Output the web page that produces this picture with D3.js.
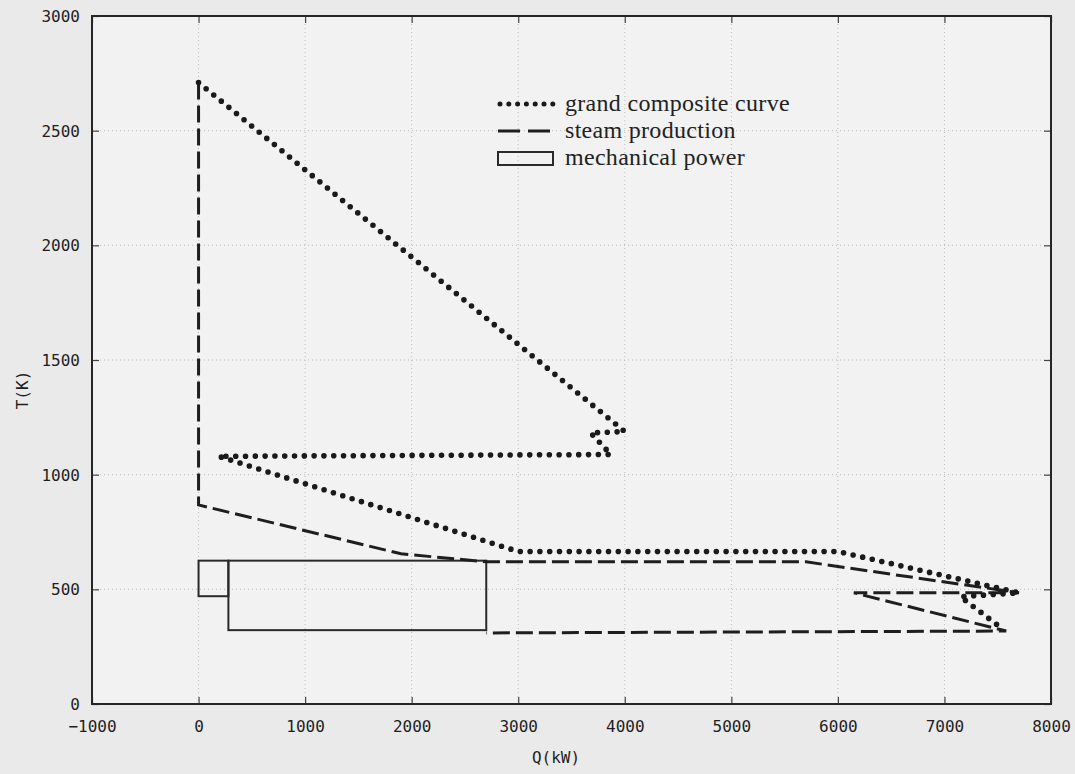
<!DOCTYPE html>
<html><head><meta charset="utf-8">
<script src="https://cdn.jsdelivr.net/npm/d3@7"></script>
<style>
html,body{margin:0;padding:0;background:#ebebeb;}
svg{display:block;}
</style></head>
<body>
<svg id="chart" width="1075" height="774"></svg>
<script>
// ---- data ----
const gccQ = [0, 4000, 3680, 3870, 190, 3000, 6000, 7700, 7150, 7560];
const gccT = [2710, 1188, 1182, 1088, 1080, 665, 665, 485, 468, 322];
const steamQ = [0, 0, 1900, 2700, 5700, 7700, 6150, 7580, 2700];
const steamT = [2710, 868, 655, 620, 620, 485, 485, 318, 310];
const mechQ0 = [0, 280];
const mechQ1 = [280, 2700];
const mechTlow = [470, 322];
const mechThigh = [625, 625];
const xTicks = [-1000, 0, 1000, 2000, 3000, 4000, 5000, 6000, 7000, 8000];
const yTicks = [0, 500, 1000, 1500, 2000, 2500, 3000];
const legendLabels = ["grand composite curve", "steam production", "mechanical power"];

const svg = d3.select("#chart");
const L = 92, R = 1051, T = 16, B = 704;
const x = d3.scaleLinear().domain([-1000, 8000]).range([L, R]);
const y = d3.scaleLinear().domain([0, 3000]).range([B, T]);

svg.append("rect").attr("x", 0).attr("y", 0).attr("width", 1075).attr("height", 774).attr("fill", "#eaeaea");
svg.append("rect").attr("x", L).attr("y", T).attr("width", R - L).attr("height", B - T).attr("fill", "#f2f2f2");

// grid
const grid = svg.append("g").attr("stroke", "#bdbdbd").attr("stroke-width", 1).attr("stroke-dasharray", "1 3");
xTicks.slice(1, -1).forEach(v => grid.append("line").attr("x1", x(v)).attr("x2", x(v)).attr("y1", T).attr("y2", B));
yTicks.slice(1, -1).forEach(v => grid.append("line").attr("y1", y(v)).attr("y2", y(v)).attr("x1", L).attr("x2", R));

// axes with mirrored inward ticks
const fmt = d3.format("d");
const axB = svg.append("g").attr("transform", `translate(0,${B})`)
  .call(d3.axisBottom(x).tickValues(xTicks).tickSize(-7).tickPadding(17).tickFormat(fmt));
const axT = svg.append("g").attr("transform", `translate(0,${T})`)
  .call(d3.axisTop(x).tickValues(xTicks).tickSize(-7).tickFormat(""));
const axL = svg.append("g").attr("transform", `translate(${L},0)`)
  .call(d3.axisLeft(y).tickValues(yTicks).tickSize(-7).tickPadding(12).tickFormat(fmt));
const axR = svg.append("g").attr("transform", `translate(${R},0)`)
  .call(d3.axisRight(y).tickValues(yTicks).tickSize(-7).tickFormat(""));
[axB, axT, axL, axR].forEach(a => {
  a.select(".domain").remove();
  a.selectAll(".tick line").attr("stroke", "#444").attr("stroke-width", 1.2);
  a.selectAll("text").attr("font-family", "DejaVu Sans Mono").attr("font-size", 16).attr("fill", "#1e1e1e");
});
axL.selectAll(".tick text").attr("dy", "0.34em");

// frame
svg.append("rect").attr("x", L).attr("y", T).attr("width", R - L).attr("height", B - T)
  .attr("fill", "none").attr("stroke", "#262626").attr("stroke-width", 2);

// titles
svg.append("text").attr("x", 556).attr("y", 763).attr("text-anchor", "middle")
  .attr("font-family", "DejaVu Sans Mono").attr("font-size", 16).attr("fill", "#1e1e1e").text("Q(kW)");
svg.append("text").attr("transform", `translate(28,390) rotate(-90)`).attr("text-anchor", "middle")
  .attr("font-family", "DejaVu Sans Mono").attr("font-size", 16).attr("fill", "#1e1e1e").text("T(K)");

// mechanical power rectangles
svg.append("g").selectAll("rect").data(mechQ0.map((q, i) => i)).join("rect")
  .attr("x", i => x(mechQ0[i])).attr("width", i => x(mechQ1[i]) - x(mechQ0[i]))
  .attr("y", i => y(mechThigh[i])).attr("height", i => y(mechTlow[i]) - y(mechThigh[i]))
  .attr("fill", "none").attr("stroke", "#2a2a2a").attr("stroke-width", 2);

const line = d3.line().x(d => x(d[0])).y(d => y(d[1]));
// steam production
svg.append("path").datum(steamQ.map((q, i) => [q, steamT[i]])).attr("d", line)
  .attr("fill", "none").attr("stroke", "#1e1e1e").attr("stroke-width", 3)
  .attr("stroke-dasharray", "17 6");
// grand composite curve
svg.append("path").datum(gccQ.map((q, i) => [q, gccT[i]])).attr("d", line)
  .attr("fill", "none").attr("stroke", "#1a1a1a").attr("stroke-width", 5.6)
  .attr("stroke-linecap", "round").attr("stroke-dasharray", "0 9.8");

// legend
const lg = svg.append("g");
const lx0 = 500, lx1 = 553, ly = [104, 131, 158];
lg.append("line").attr("x1", lx0).attr("x2", lx1).attr("y1", ly[0]).attr("y2", ly[0])
  .attr("stroke", "#1a1a1a").attr("stroke-width", 5).attr("stroke-linecap", "round").attr("stroke-dasharray", "0 8.8");
lg.append("line").attr("x1", lx0 - 2).attr("x2", lx1).attr("y1", ly[1]).attr("y2", ly[1])
  .attr("stroke", "#1e1e1e").attr("stroke-width", 3).attr("stroke-dasharray", "22 8");
lg.append("rect").attr("x", lx0 - 2).attr("y", ly[2] - 6).attr("width", lx1 - lx0 + 2).attr("height", 13)
  .attr("fill", "none").attr("stroke", "#2a2a2a").attr("stroke-width", 2);
legendLabels.forEach((t, i) => {
  lg.append("text").attr("x", 565).attr("y", ly[i]).attr("dy", "0.3em")
    .attr("font-family", "Liberation Serif").attr("font-size", 24).attr("letter-spacing", 0.3)
    .attr("fill", "#222").text(t);
});
</script>
</body></html>
